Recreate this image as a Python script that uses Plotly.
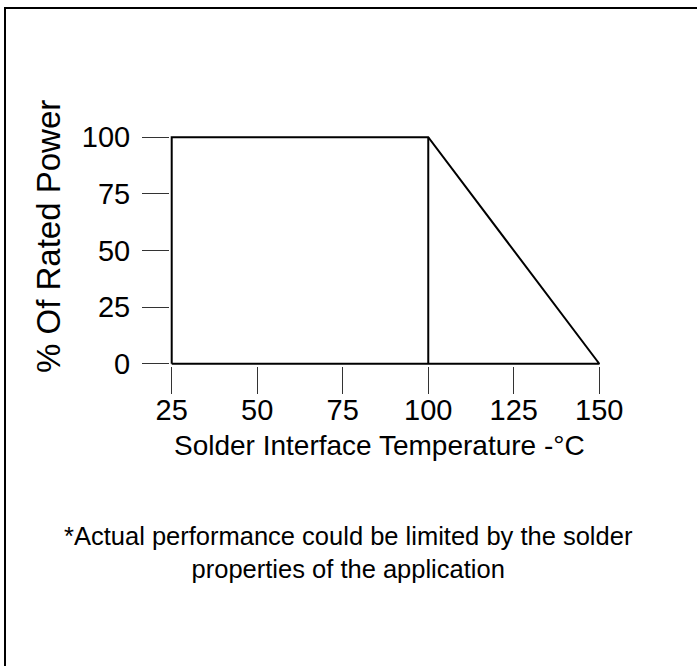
import plotly.graph_objects as go

# Data
outline_temp = [25, 25, 100, 150, 25]
outline_power = [0, 100, 100, 0, 0]
knee_temp = [100, 100]
knee_power = [0, 100]
x_ticks = [25, 50, 75, 100, 125, 150]
y_ticks = [0, 25, 50, 75, 100]
x_title = "Solder Interface Temperature -°C"
y_title = "% Of Rated Power"
note_text = "*Actual performance could be limited by the solder<br>properties of the application"

W, H = 697, 666
L, R, T, B = 170, 96, 135, 300
FONT = "Liberation Sans, Arial, Helvetica, sans-serif"

fig = go.Figure()
fig.add_trace(go.Scatter(x=outline_temp, y=outline_power, mode="lines",
                         line=dict(color="black", width=2), showlegend=False, hoverinfo="skip"))
fig.add_trace(go.Scatter(x=knee_temp, y=knee_power, mode="lines",
                         line=dict(color="black", width=2), showlegend=False, hoverinfo="skip"))

pw = W - L - R
ph = H - T - B

def px_to_paper_x(px):
    return (px - L) / pw

def px_to_paper_y(py):
    return (H - B - py) / ph

fig.update_layout(
    width=W, height=H,
    margin=dict(l=L, r=R, t=T, b=B, pad=0),
    paper_bgcolor="white", plot_bgcolor="white",
    font=dict(family=FONT, color="black"),
    xaxis=dict(range=[24.5, 150.5], tickvals=x_ticks, ticks="outside", ticklen=27,
               tickcolor="#333", tickwidth=1, showgrid=False, zeroline=False, showline=False,
               ticklabelstandoff=-9,
               tickfont=dict(size=29, family=FONT, color="black")),
    yaxis=dict(range=[-1, 101], tickvals=y_ticks, ticks="outside", ticklen=27,
               tickcolor="#333", tickwidth=1, showgrid=False, zeroline=False, showline=False,
               ticklabelstandoff=6,
               tickfont=dict(size=29, family=FONT, color="black")),
    annotations=[
        dict(text=x_title, xref="paper", yref="paper",
             x=px_to_paper_x(172), y=px_to_paper_y(445), xanchor="left", yanchor="middle",
             showarrow=False, font=dict(size=28, family=FONT, color="black")),
        dict(text=y_title, xref="paper", yref="paper", textangle=-90,
             x=px_to_paper_x(48), y=px_to_paper_y(237), xanchor="center", yanchor="middle",
             showarrow=False, font=dict(size=33, family=FONT, color="black")),
        dict(text=note_text, xref="paper", yref="paper",
             x=px_to_paper_x(348), y=px_to_paper_y(552), xanchor="center", yanchor="middle",
             showarrow=False, align="center",
             font=dict(size=25.5, family=FONT, color="black")),
    ],
    shapes=[dict(type="rect", xref="paper", yref="paper",
                 x0=px_to_paper_x(5), x1=px_to_paper_x(W + 10),
                 y0=px_to_paper_y(H + 10), y1=px_to_paper_y(8),
                 line=dict(color="black", width=2), fillcolor="rgba(0,0,0,0)", layer="below")],
)

fig.write_html("out.html", config={"displayModeBar": False},
               post_script="document.body.style.margin='0';document.body.style.padding='0';")
